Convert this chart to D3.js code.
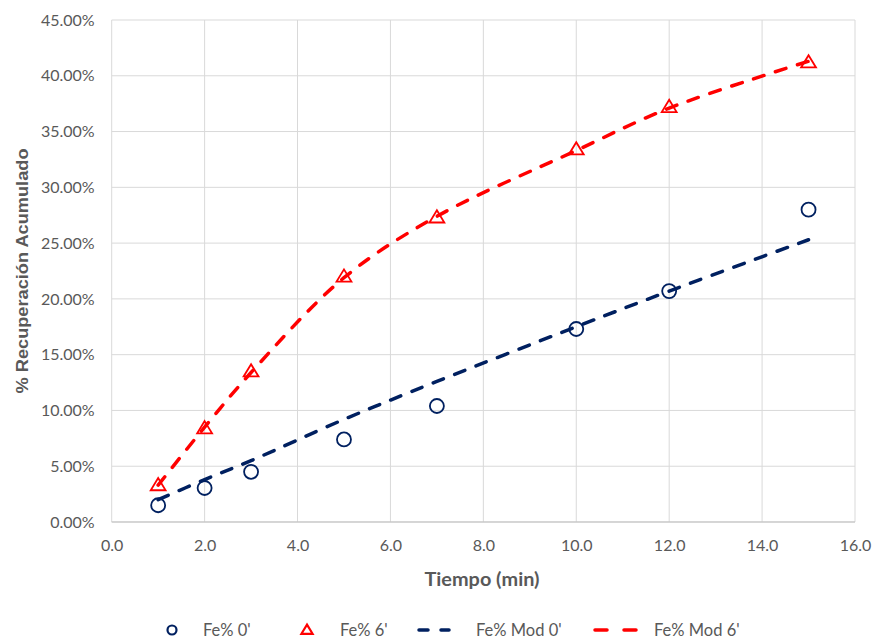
<!DOCTYPE html>
<html><head><meta charset="utf-8">
<script src="https://cdn.jsdelivr.net/npm/d3@7"></script>
<style>
body{margin:0;background:#fff;}
svg{display:block;}
</style></head>
<body>
<svg id="chart" width="878" height="642"></svg>
<script>
const tiempo = [1, 2, 3, 5, 7, 10, 12, 15];
const fe0 = [1.5, 3.05, 4.5, 7.4, 10.4, 17.3, 20.7, 28.0];
const fe6 = [3.3, 8.4, 13.5, 22.0, 27.3, 33.4, 37.2, 41.2];
const feMod0 = [2.0, 3.8, 5.5, 9.2, 12.6, 17.5, 20.7, 25.3];
const feMod6 = [3.3, 8.5, 13.4, 21.9, 27.4, 33.3, 37.1, 41.3];
const xTicks = [0, 2, 4, 6, 8, 10, 12, 14, 16];
const yTicks = [0, 5, 10, 15, 20, 25, 30, 35, 40, 45];
const legendLabels = ["Fe% 0'", "Fe% 6'", "Fe% Mod 0'", "Fe% Mod 6'"];
const navy = "#002060", red = "#FF0000";

const svg = d3.select("#chart");
const L = 111.7, R = 855, T = 20, B = 522;
const x = d3.scaleLinear().domain([0, 16]).range([L, R]);
const y = d3.scaleLinear().domain([0, 45]).range([B, T]);

// gridlines
svg.append("g").selectAll("line").data(yTicks).join("line")
  .attr("x1", L).attr("x2", R).attr("y1", d => y(d)).attr("y2", d => y(d))
  .attr("stroke", "#d9d9d9").attr("stroke-width", 1);
svg.append("g").selectAll("line").data(xTicks).join("line")
  .attr("x1", d => x(d)).attr("x2", d => x(d)).attr("y1", T).attr("y2", B)
  .attr("stroke", "#d9d9d9").attr("stroke-width", 1);
svg.append("line").attr("x1", L).attr("x2", R).attr("y1", B).attr("y2", B)
  .attr("stroke", "#bfbfbf").attr("stroke-width", 1);

// axes
const tickFont = "Lato, 'Open Sans', sans-serif";
const ax = svg.append("g").attr("transform", `translate(0,${B})`)
  .call(d3.axisBottom(x).tickValues(xTicks).tickFormat(d3.format(".1f")).tickSize(0).tickPadding(18));
ax.select(".domain").remove();
ax.selectAll("text").attr("fill", "#595959").style("font-family", tickFont).style("font-size", "16px");

const ay = svg.append("g").attr("transform", `translate(${L},0)`)
  .call(d3.axisLeft(y).tickValues(yTicks).tickFormat(d => d.toFixed(2) + "%").tickSize(0).tickPadding(17));
ay.select(".domain").remove();
ay.selectAll("text").attr("fill", "#595959").style("font-family", tickFont).style("font-size", "16px");

// axis titles
svg.append("text").attr("x", 482).attr("y", 586).attr("text-anchor", "middle")
  .attr("fill", "#595959").style("font-family", "Lato, sans-serif").style("font-weight", "bold").style("font-size", "18px")
  .attr("textLength", 115).attr("lengthAdjust", "spacingAndGlyphs")
  .text("Tiempo (min)");
svg.append("text").attr("transform", `translate(28,${(T + B) / 2}) rotate(-90)`).attr("text-anchor", "middle")
  .attr("fill", "#595959").style("font-family", "'Liberation Sans', Arial, sans-serif").style("font-weight", "bold").style("font-size", "17px")
  .attr("textLength", 245).attr("lengthAdjust", "spacingAndGlyphs")
  .text("% Recuperación Acumulado");

// model lines
const line = (vals) => d3.line().x((d, i) => x(tiempo[i])).y(d => y(d)).curve(d3.curveCatmullRom.alpha(0.5))(vals);
[[feMod0, navy], [feMod6, red]].forEach(([vals, c]) => {
  svg.append("path").attr("d", line(vals)).attr("fill", "none").attr("stroke", c)
    .attr("stroke-width", 3.5).attr("stroke-dasharray", "11,12").attr("stroke-linecap", "round");
});

// markers
svg.append("g").selectAll("circle").data(fe0).join("circle")
  .attr("cx", (d, i) => x(tiempo[i])).attr("cy", d => y(d)).attr("r", 7)
  .attr("fill", "none").attr("stroke", navy).attr("stroke-width", 1.8);
const tri = (cx, cy, s) => `M${cx},${cy - s * 0.6}L${cx + s * 0.62},${cy + s * 0.42}L${cx - s * 0.62},${cy + s * 0.42}Z`;
svg.append("g").selectAll("path").data(fe6).join("path")
  .attr("d", (d, i) => tri(x(tiempo[i]), y(d), 12))
  .attr("fill", "none").attr("stroke", red).attr("stroke-width", 1.8);

// legend
const ly = 630;
const lg = svg.append("g").style("font-family", tickFont).style("font-size", "16.5px");
lg.append("circle").attr("cx", 172).attr("cy", ly).attr("r", 4.5).attr("fill", "none").attr("stroke", navy).attr("stroke-width", 2.2);
lg.append("path").attr("d", tri(307, ly, 9)).attr("fill", "none").attr("stroke", red).attr("stroke-width", 2.2);
lg.append("line").attr("x1", 419).attr("x2", 449).attr("y1", ly).attr("y2", ly).attr("stroke", navy).attr("stroke-width", 3.5).attr("stroke-dasharray", "9,13").attr("stroke-linecap", "round");
lg.append("line").attr("x1", 595).attr("x2", 636).attr("y1", ly).attr("y2", ly).attr("stroke", red).attr("stroke-width", 3.5).attr("stroke-dasharray", "12,17").attr("stroke-linecap", "round");
const lx = [203, 340, 476, 654];
legendLabels.forEach((t, i) => lg.append("text").attr("x", lx[i]).attr("y", ly + 6).attr("fill", "#595959").text(t));
</script>
</body></html>
